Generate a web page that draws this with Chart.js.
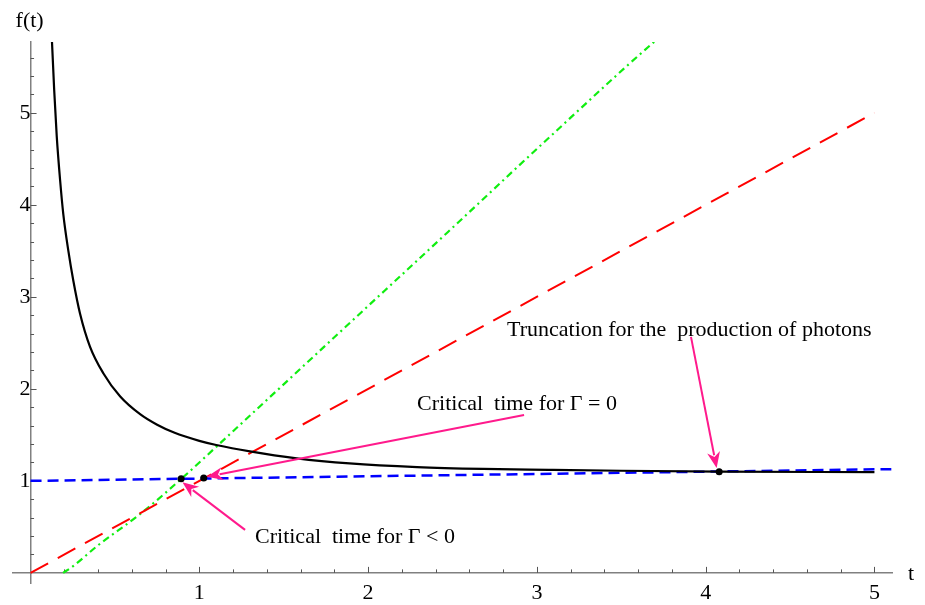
<!DOCTYPE html>
<html>
<head>
<meta charset="utf-8">
<script src="https://cdn.jsdelivr.net/npm/chart.js@4.4.1/dist/chart.umd.min.js"></script>
<style>
html,body{margin:0;padding:0;background:#fff;}
#wrap{width:925px;height:605px;}
</style>
</head>
<body>
<div id="wrap"><canvas id="c" width="925" height="605"></canvas></div>
<script>
// ---- data ----
const blackT = [0.12, 0.127, 0.14, 0.155, 0.175, 0.194, 0.224, 0.254, 0.293, 0.352, 0.431, 0.53, 0.649, 0.75, 0.85, 1.0, 1.1, 1.3, 1.577, 1.89, 2.29, 2.68, 3.07, 3.5, 4.08, 5.0];
const blackF = [6.1, 5.77, 5.25, 4.75, 4.27, 3.90, 3.50, 3.17, 2.82, 2.46, 2.17, 1.92, 1.725, 1.61, 1.525, 1.435, 1.39, 1.32, 1.245, 1.19, 1.15, 1.13, 1.12, 1.11, 1.10, 1.095];

const greenT = [0.193, 0.25, 0.4, 0.65, 0.886, 1.2, 1.87, 2.47, 3.06, 3.70, 3.72];
const greenF = [0.0, 0.07, 0.30, 0.64, 1.01, 1.54, 2.68, 3.70, 4.71, 5.78, 5.81];

const redT = [0, 5];
const redF = [0, 5];

const blueT = [0, 5.1];
const blueF = [1.0, 1.1275];

const dotT = [0.892, 1.026, 4.08];
const dotF = [1.022, 1.03, 1.10];

const xTickLabels = [1, 2, 3, 4, 5];
const yTickLabels = [1, 2, 3, 4, 5];
const xMinorTicks = [0.2,0.4,0.6,0.8,1,1.2,1.4,1.6,1.8,2,2.2,2.4,2.6,2.8,3,3.2,3.4,3.6,3.8,4,4.2,4.4,4.6,4.8,5];
const yMinorTicks = [0.2,0.4,0.6,0.8,1,1.2,1.4,1.6,1.8,2,2.2,2.4,2.6,2.8,3,3.2,3.4,3.6,3.8,4,4.2,4.4,4.6,4.8,5,5.2,5.4,5.6];

const annLabels = [
  "Critical  time for \u0393 = 0",
  "Critical  time for \u0393 < 0",
  "Truncation for the  production of photons"
];
// annotation anchors (data coordinates): text left/baseline, arrow tail -> tip
const annText = [[2.29, 1.772], [1.33, 0.326], [2.823, 2.576]];
const annArrowTail = [[2.924, 1.717], [1.271, 0.467], [3.913, 2.565]];
const annArrowTip = [[1.045, 1.045], [0.90, 0.985], [4.065, 1.14]];

const xAxisTitle = "t";
const yAxisTitle = "f(t)";

const pts = (T, F) => T.map((t, i) => ({x: t, y: F[i]}));

Chart.defaults.font.family = "'Liberation Serif', 'Times New Roman', serif";

const decor = {
  id: 'decor',
  beforeDatasetsDraw(chart) {
    const {ctx, scales: {x, y}} = chart;
    const x0 = x.getPixelForValue(0), y0 = y.getPixelForValue(0);
    ctx.save();
    ctx.strokeStyle = '#555';
    ctx.lineWidth = 1;
    xMinorTicks.forEach(v => {
      const px = Math.round(x.getPixelForValue(v)) + 0.5;
      const len = Number.isInteger(v) ? 6 : 3.5;
      ctx.beginPath(); ctx.moveTo(px, y0); ctx.lineTo(px, y0 - len); ctx.stroke();
    });
    yMinorTicks.forEach(v => {
      const py = Math.round(y.getPixelForValue(v)) + 0.5;
      const len = Number.isInteger(v) ? 6 : 3.5;
      ctx.beginPath(); ctx.moveTo(x0, py); ctx.lineTo(x0 + len, py); ctx.stroke();
    });
    ctx.restore();
  },
  afterDatasetsDraw(chart) {
    const {ctx, scales: {x, y}, chartArea} = chart;
    ctx.save();
    // axis titles
    ctx.fillStyle = '#000';
    ctx.font = "22px 'Liberation Serif', serif";
    ctx.textBaseline = 'alphabetic';
    ctx.textAlign = 'left';
    ctx.fillText(yAxisTitle, x.getPixelForValue(0) - 15, chartArea.top - 15);
    ctx.fillText(xAxisTitle, chartArea.right + 16, y.getPixelForValue(0) + 7);
    // arrows
    const col = '#ff1a8c';
    ctx.strokeStyle = col; ctx.fillStyle = col; ctx.lineWidth = 2;
    annArrowTail.forEach((tl, i) => {
      const tp = annArrowTip[i];
      const x1 = x.getPixelForValue(tl[0]), y1 = y.getPixelForValue(tl[1]);
      const x2 = x.getPixelForValue(tp[0]), y2 = y.getPixelForValue(tp[1]);
      const ang = Math.atan2(y2 - y1, x2 - x1);
      const L = 16, W = 6.5;
      const bx = x2 - L * Math.cos(ang), by = y2 - L * Math.sin(ang);
      ctx.beginPath(); ctx.moveTo(x1, y1); ctx.lineTo(bx + 3 * Math.cos(ang), by + 3 * Math.sin(ang)); ctx.stroke();
      ctx.beginPath();
      ctx.moveTo(x2, y2);
      ctx.lineTo(bx + W * Math.sin(ang), by - W * Math.cos(ang));
      ctx.lineTo(bx + 0.3 * L * Math.cos(ang), by + 0.3 * L * Math.sin(ang));
      ctx.lineTo(bx - W * Math.sin(ang), by + W * Math.cos(ang));
      ctx.closePath(); ctx.fill();
    });
    // labels
    ctx.fillStyle = '#000';
    annLabels.forEach((s, i) => {
      ctx.fillText(s, x.getPixelForValue(annText[i][0]), y.getPixelForValue(annText[i][1]));
    });
    ctx.restore();
  }
};

new Chart(document.getElementById('c'), {
  type: 'line',
  data: {
    datasets: [
      {data: pts(dotT, dotF), showLine: false, pointRadius: 3.5, pointBackgroundColor: '#000', pointBorderColor: '#000', pointBorderWidth: 0, order: 0},
      {data: pts(blackT, blackF), borderColor: '#000', borderWidth: 2.2, pointRadius: 0, cubicInterpolationMode: 'monotone', fill: false, clip: 0, order: 1},
      {data: pts(blueT, blueF), borderColor: '#0000ff', borderWidth: 2.5, borderDash: [11, 6], pointRadius: 0, fill: false, clip: 0, order: 2},
      {data: pts(redT, redF), borderColor: '#ff0000', borderWidth: 2, borderDash: [20, 11], pointRadius: 0, fill: false, clip: 0, order: 3},
      {data: pts(greenT, greenF), borderColor: '#10ee10', borderWidth: 2.2, borderDash: [7, 4, 2, 4], pointRadius: 0, cubicInterpolationMode: 'monotone', fill: false, clip: 0, order: 4}
    ]
  },
  options: {
    responsive: false,
    animation: false,
    devicePixelRatio: 1,
    layout: {padding: {left: 13, right: 33, top: 42, bottom: 22}},
    plugins: {legend: {display: false}, tooltip: {enabled: false}},
    scales: {
      x: {
        type: 'linear', min: -0.104, max: 5.104, position: {y: 0},
        afterBuildTicks(s) { s.ticks = xTickLabels.map(v => ({value: v})); },
        afterFit(s) { s.height = 0; },
        grid: {display: true, drawOnChartArea: false, drawTicks: false},
        border: {display: true, color: '#808080', width: 1.5},
        ticks: {color: '#000', font: {size: 22}, padding: 7, maxRotation: 0, autoSkip: false, callback: v => String(v)}
      },
      y: {
        type: 'linear', min: -0.11, max: 5.77, position: {x: 0},
        afterBuildTicks(s) { s.ticks = yTickLabels.map(v => ({value: v})); },
        afterFit(s) { s.width = 0; },
        grid: {display: true, drawOnChartArea: false, drawTicks: false},
        border: {display: true, color: '#808080', width: 1.5},
        ticks: {color: '#000', font: {size: 22}, padding: 8, autoSkip: false, callback: v => String(v)}
      }
    }
  },
  plugins: [decor]
});
</script>
</body>
</html>
